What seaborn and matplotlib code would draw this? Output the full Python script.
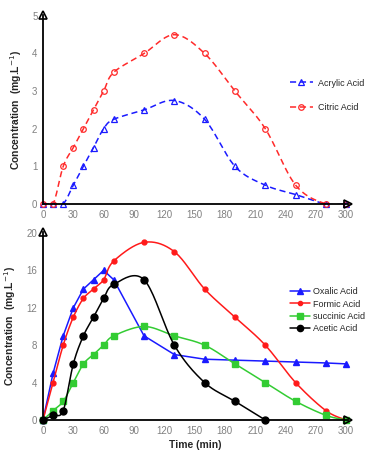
import numpy as np
import pandas as pd
import seaborn as sns
import matplotlib.pyplot as plt
from matplotlib.lines import Line2D

sns.set_style("white")
plt.rcParams['font.family'] = ['Liberation Sans', 'DejaVu Sans']

# data
time = [0, 10, 20, 30, 40, 50, 60, 70, 100, 130, 160, 190, 220, 250, 280, 300]
acrylic = [0, 0, 0, 0.5, 1, 1.5, 2, 2.25, 2.5, 2.75, 2.25, 1, 0.5, 0.25, 0, 0]
citric = [0, 0, 1, 1.5, 2, 2.5, 3, 3.5, 4, 4.5, 4, 3, 2, 0.5, 0, 0]

oxalic = [0, 5, 9, 12, 14, 15, 16, 15, 9, 7, 6.5, 6.4, 6.3, 6.2, 6.1, 6.0]
formic = [0, 4, 8, 11, 13, 14, 15, 17, 19, 18, 14, 11, 8, 4, 1, 0]
succinic = [0, 1, 2, 4, 6, 7, 8, 9, 10, 9, 8, 6, 4, 2, 0.5, 0]
time_acetic = [0, 10, 20, 30, 40, 50, 60, 70, 100, 130, 160, 190, 220]
acetic = [0, 0.5, 1, 6, 9, 11, 13, 14.5, 15, 8, 4, 2, 0]


def smooth(x, y, n=20):
    # Catmull-Rom curve through the points, like Excel's "smoothed line"
    p = np.column_stack([x, y]).astype(float)
    p = np.vstack([p[0], p, p[-1]])
    out = []
    for i in range(1, len(p) - 2):
        p0, p1, p2, p3 = p[i - 1], p[i], p[i + 1], p[i + 2]
        t = np.linspace(0, 1, n, endpoint=False)[:, None]
        seg = 0.5 * ((2 * p1) + (-p0 + p2) * t + (2 * p0 - 5 * p1 + 4 * p2 - p3) * t ** 2
                     + (-p0 + 3 * p1 - 3 * p2 + p3) * t ** 3)
        out.append(seg)
    out.append(p[-2][None, :])
    s = np.vstack(out)
    return s[:, 0], s[:, 1]


def arrows(ax):
    sns.despine(ax=ax)
    for sp in ["left", "bottom"]:
        ax.spines[sp].set_linewidth(1.3)
        ax.spines[sp].set_color("black")
    ax.plot(1, 0, ">", transform=ax.transAxes, color="black", ms=6, clip_on=False,
            marker=r"$\succ$" if False else ">", markerfacecolor="none", mew=1.2)
    ax.plot(0, 1, "^", transform=ax.transAxes, color="black", ms=6, clip_on=False,
            markerfacecolor="none", mew=1.2)
    ax.tick_params(axis="both", length=0, labelsize=7, labelcolor="#808080", pad=4)


fig = plt.figure(figsize=(3.69, 4.54), dpi=100)
ax1 = fig.add_axes([0.1165, 0.5507, 0.827, 0.416])
ax2 = fig.add_axes([0.1165, 0.0749, 0.827, 0.414])

# top panel
top = [(acrylic, "#1a1aff", "^", "Acrylic Acid"), (citric, "#ff2a2a", "o", "Citric Acid")]
handles = []
for vals, col, mk, name in top:
    sx, sy = smooth(time, vals)
    sns.lineplot(x=sx, y=sy, ax=ax1, color=col, linestyle=(0, (4, 2.5)), lw=1.1,
                 sort=False, estimator=None)
    ax1.plot(time, vals, mk, color=col, ms=4, markerfacecolor="none", mew=0.9, clip_on=False)
    handles.append(Line2D([], [], color=col, linestyle=(0, (4, 2.5)), lw=1.1, marker=mk,
                          ms=4, markerfacecolor="none", mew=0.9, label=name))
ax1.set_xlim(0, 302)
ax1.set_ylim(0, 5.02)
ax1.set_xticks(range(0, 301, 30))
ax1.set_yticks(range(0, 6))
ax1.set_ylabel("Concentration  (mg.L$^{-1}$)", fontsize=7.5, fontweight="bold", labelpad=6)
arrows(ax1)
fig.legend(handles=handles, loc="upper left", bbox_to_anchor=(0.775, 0.835), frameon=False,
           fontsize=6.5, labelspacing=1.7, handlelength=2.6, handletextpad=0.5, borderaxespad=0)

# bottom panel
bottom = [(time, oxalic, "#1a1aff", "^", 4.5, "Oxalic Acid"),
          (time, formic, "#ff1a1a", "o", 3.5, "Formic Acid"),
          (time, succinic, "#33cc33", "s", 4.5, "succinic Acid"),
          (time_acetic, acetic, "black", "o", 5, "Acetic Acid")]
handles = []
for xs, vals, col, mk, ms, name in bottom:
    if name == "Oxalic Acid":
        sx, sy = xs, vals
    else:
        sx, sy = smooth(xs, vals)
    sns.lineplot(x=sx, y=sy, ax=ax2, color=col, lw=1.1, sort=False, estimator=None)
    ax2.plot(xs, vals, mk, color=col, ms=ms, clip_on=False)
    handles.append(Line2D([], [], color=col, lw=1.1, marker=mk, ms=ms - 0.5, label=name))
ax2.set_xlim(0, 302)
ax2.set_ylim(0, 20.1)
ax2.set_xticks(range(0, 301, 30))
ax2.set_yticks(range(0, 21, 4))
ax2.set_ylabel("Concentration  (mg.L$^{-1}$)", fontsize=7.5, fontweight="bold", labelpad=6)
ax2.set_xlabel("Time (min)", fontsize=7.5, fontweight="bold", labelpad=3)
arrows(ax2)
fig.legend(handles=handles, loc="upper left", bbox_to_anchor=(0.775, 0.375), frameon=False,
           fontsize=6.5, labelspacing=0.35, handlelength=2.3, handletextpad=0.3, borderaxespad=0)

fig.savefig("out.png", dpi=100)
